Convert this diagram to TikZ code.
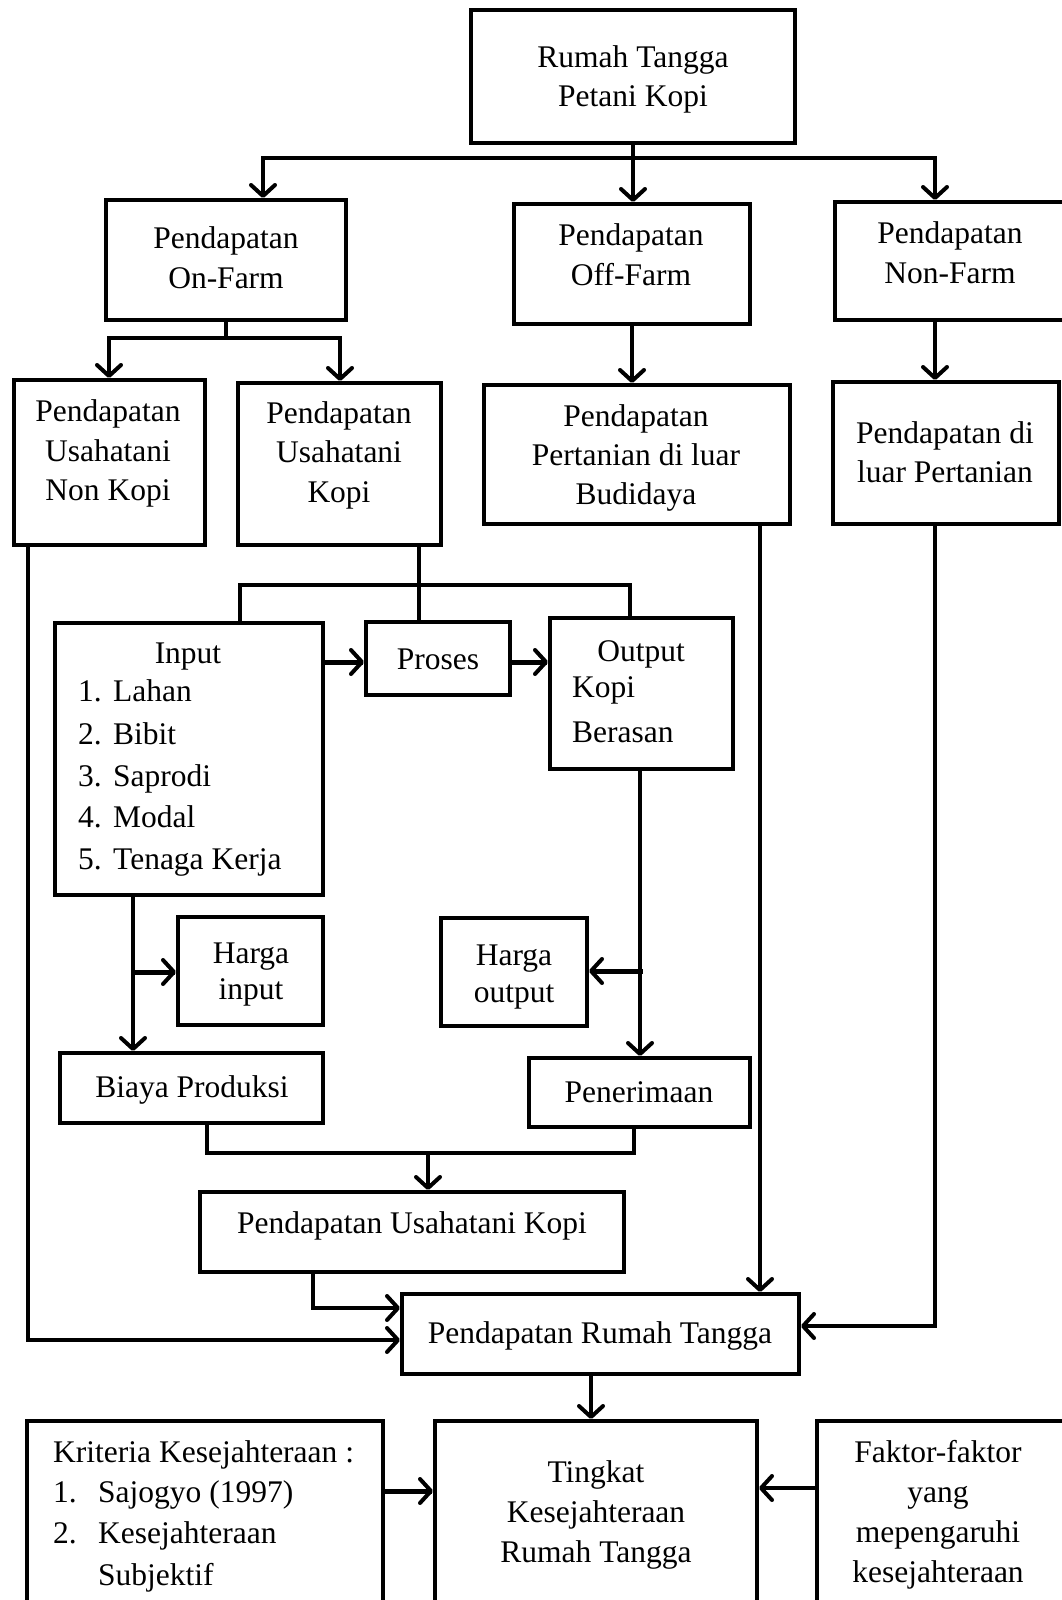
\documentclass[tikz,border=0pt]{standalone}
\usepackage{fontspec}
\setmainfont{Liberation Serif}
\usetikzlibrary{arrows.meta}
\newcommand{\fsz}{\fontsize{31.5}{40}\selectfont}
\tikzset{
  box/.style={draw, line width=4pt, rectangle, inner sep=0pt},
  conn/.style={line width=3.5pt, line cap=rect},
  arr/.style={conn, -{Straight Barb[length=11pt,width=24pt,line width=4pt,round]}},
  thickarr/.style={arr, line width=5pt},
  txt/.style={inner sep=0pt, anchor=base, font=\fsz},
  ltxt/.style={inner sep=0pt, anchor=base west, font=\fsz}
}
\begin{document}
\begin{tikzpicture}[x=1pt,y=-1pt]
\useasboundingbox (0,0) rectangle (1062,1600);
\clip (0,0) rectangle (1062,1600);
\fill[white] (0,0) rectangle (1062,1600);
% boxes
\node[box, minimum width=324pt, minimum height=133pt] (A) at (633,76.5) {};
\node[box, minimum width=240pt, minimum height=120pt] (B) at (226,260) {};
\node[box, minimum width=236pt, minimum height=120pt] (C) at (632,264) {};
\node[box, minimum width=240pt, minimum height=118pt] (D) at (955,261) {};
\node[box, minimum width=191pt, minimum height=165pt] (E) at (109.5,462.5) {};
\node[box, minimum width=203pt, minimum height=162pt] (F) at (339.5,464) {};
\node[box, minimum width=306pt, minimum height=139pt] (G) at (637,454.5) {};
\node[box, minimum width=226pt, minimum height=142pt] (H) at (946,453) {};
\node[box, minimum width=268pt, minimum height=272pt] (I) at (189,759) {};
\node[box, minimum width=144pt, minimum height=73pt] (J) at (438,658.5) {};
\node[box, minimum width=183pt, minimum height=151pt] (K) at (641.5,693.5) {};
\node[box, minimum width=145pt, minimum height=108pt] (L) at (250.5,971) {};
\node[box, minimum width=146pt, minimum height=108pt] (M) at (514,972) {};
\node[box, minimum width=263pt, minimum height=70pt] (N) at (191.5,1088) {};
\node[box, minimum width=221pt, minimum height=69pt] (O) at (639.5,1092.5) {};
\node[box, minimum width=424pt, minimum height=80pt] (P) at (412,1232) {};
\node[box, minimum width=397pt, minimum height=80pt] (Q) at (600.5,1334) {};
\node[box, minimum width=356pt, minimum height=219pt] (R) at (205,1530.5) {};
\node[box, minimum width=322pt, minimum height=219pt] (S) at (596,1530.5) {};
\node[box, minimum width=258pt, minimum height=219pt] (T) at (946,1530.5) {};
% texts
\node[txt] (tA1) at (633,68) {Rumah Tangga};
\node[txt] (tA2) at (633,107) {Petani Kopi};
\node[txt] (tB1) at (226,248) {Pendapatan};
\node[txt] (tB2) at (226,288) {On-Farm};
\node[txt] (tC1) at (631,245) {Pendapatan};
\node[txt] (tC2) at (631,285) {Off-Farm};
\node[txt] (tD1) at (950,243) {Pendapatan};
\node[txt] (tD2) at (950,283) {Non-Farm};
\node[txt] (tE1) at (108,421) {Pendapatan};
\node[txt] (tE2) at (108,461) {Usahatani};
\node[txt] (tE3) at (108,500) {Non Kopi};
\node[txt] (tF1) at (339,423) {Pendapatan};
\node[txt] (tF2) at (339,462) {Usahatani};
\node[txt] (tF3) at (339,502) {Kopi};
\node[txt] (tG1) at (636,426) {Pendapatan};
\node[txt] (tG2) at (636,465) {Pertanian di luar};
\node[txt] (tG3) at (636,504) {Budidaya};
\node[txt] (tH1) at (945,443) {Pendapatan di};
\node[txt] (tH2) at (945,482) {luar Pertanian};
\node[txt] (tI0) at (188,663) {Input};
\node[ltxt] (tI1n) at (78,701) {1.};
\node[ltxt] (tI1) at (113,701) {Lahan};
\node[ltxt] (tI2n) at (78,744) {2.};
\node[ltxt] (tI2) at (113,744) {Bibit};
\node[ltxt] (tI3n) at (78,786) {3.};
\node[ltxt] (tI3) at (113,786) {Saprodi};
\node[ltxt] (tI4n) at (78,827) {4.};
\node[ltxt] (tI4) at (113,827) {Modal};
\node[ltxt] (tI5n) at (78,869) {5.};
\node[ltxt] (tI5) at (113,869) {Tenaga Kerja};
\node[txt] (tJ) at (438,669) {Proses};
\node[txt] (tK1) at (641,661) {Output};
\node[ltxt] (tK2) at (572,697) {Kopi};
\node[ltxt] (tK3) at (572,742) {Berasan};
\node[txt] (tL1) at (251,963) {Harga};
\node[txt] (tL2) at (251,999) {input};
\node[txt] (tM1) at (514,965) {Harga};
\node[txt] (tM2) at (514,1002) {output};
\node[txt] (tN) at (192,1097) {Biaya Produksi};
\node[txt] (tO) at (639,1102) {Penerimaan};
\node[txt] (tP) at (412,1233) {Pendapatan Usahatani Kopi};
\node[txt] (tQ) at (600,1343) {Pendapatan Rumah Tangga};
\node[ltxt] (tR0) at (53,1462) {Kriteria Kesejahteraan :};
\node[ltxt] (tR1n) at (53,1502) {1.};
\node[ltxt] (tR1) at (98,1502) {Sajogyo (1997)};
\node[ltxt] (tR2n) at (53,1543) {2.};
\node[ltxt] (tR2) at (98,1543) {Kesejahteraan};
\node[ltxt] (tR3) at (98,1585) {Subjektif};
\node[txt] (tS1) at (596,1482) {Tingkat};
\node[txt] (tS2) at (596,1522) {Kesejahteraan};
\node[txt] (tS3) at (596,1562) {Rumah Tangga};
\node[txt] (tT1) at (938,1462) {Faktor-faktor};
\node[txt] (tT2) at (938,1502) {yang};
\node[txt] (tT3) at (938,1542) {mepengaruhi};
\node[txt] (tT4) at (938,1582) {kesejahteraan};
% helper coordinates
\coordinate (busL) at (263,158);
\coordinate (busR) at (935,158);
\coordinate (b2) at (226,338);
\coordinate (b2L) at (109,338);
\coordinate (b2R) at (340,338);
\coordinate (ex) at (28,1340);
\coordinate (fx) at (419,585);
\coordinate (kbL) at (240,585);
\coordinate (kbR) at (630,585);
\coordinate (ix) at (133,972);
\coordinate (ox) at (640,971);
\coordinate (nbL) at (207,1153);
\coordinate (nbR) at (634,1153);
\coordinate (nbM) at (428,1153);
\coordinate (px) at (313,1308);
\coordinate (gx) at (760,0);
\coordinate (hx) at (935,1326);
\coordinate (qx) at (591,0);
% connectors
\draw[conn] (A.south) -- (A.south |- busL);
\draw[arr] (A.south |- busL) -- (A.south |- C.north);
\draw[arr] (busR) -- (busL) -- (busL |- B.north);
\draw[arr] (busR) -- (busR |- D.north);
\draw[conn] (B.south) -- (b2);
\draw[arr] (b2R) -- (b2L) -- (b2L |- E.north);
\draw[arr] (b2R) -- (b2R |- F.north);
\draw[arr] (C.south) -- (C.south |- G.north);
\draw[arr] (busR |- D.south) -- (busR |- H.north);
\draw[arr] (ex |- E.south) -- (ex) -- (Q.west |- ex);
\draw[conn] (fx |- F.south) -- (fx |- J.north);
\draw[conn] (kbL |- I.north) -- (kbL) -- (kbR) -- (kbR |- K.north);
\draw[thickarr] (I.east |- 0,662) -- (J.west |- 0,662);
\draw[thickarr] (J.east |- 0,662) -- (K.west |- 0,662);
\draw[arr] (ix |- I.south) -- (ix |- N.north);
\draw[thickarr] (ix) -- (L.west |- ix);
\draw[arr] (ox |- K.south) -- (ox |- O.north);
\draw[thickarr] (ox) -- (M.east |- ox);
\draw[conn] (nbL |- N.south) -- (nbL) -- (nbR) -- (nbR |- O.south);
\draw[arr] (nbM) -- (nbM |- P.north);
\draw[arr] (px |- P.south) -- (px) -- (Q.west |- px);
\draw[arr] (gx |- G.south) -- (gx |- Q.north);
\draw[arr] (hx |- H.south) -- (hx) -- (Q.east |- hx);
\draw[arr] (qx |- Q.south) -- (qx |- S.north);
\draw[thickarr] (R.east |- 0,1491) -- (S.west |- 0,1491);
\draw[arr] (T.west |- 0,1488) -- (S.east |- 0,1488);
\end{tikzpicture}
\end{document}
